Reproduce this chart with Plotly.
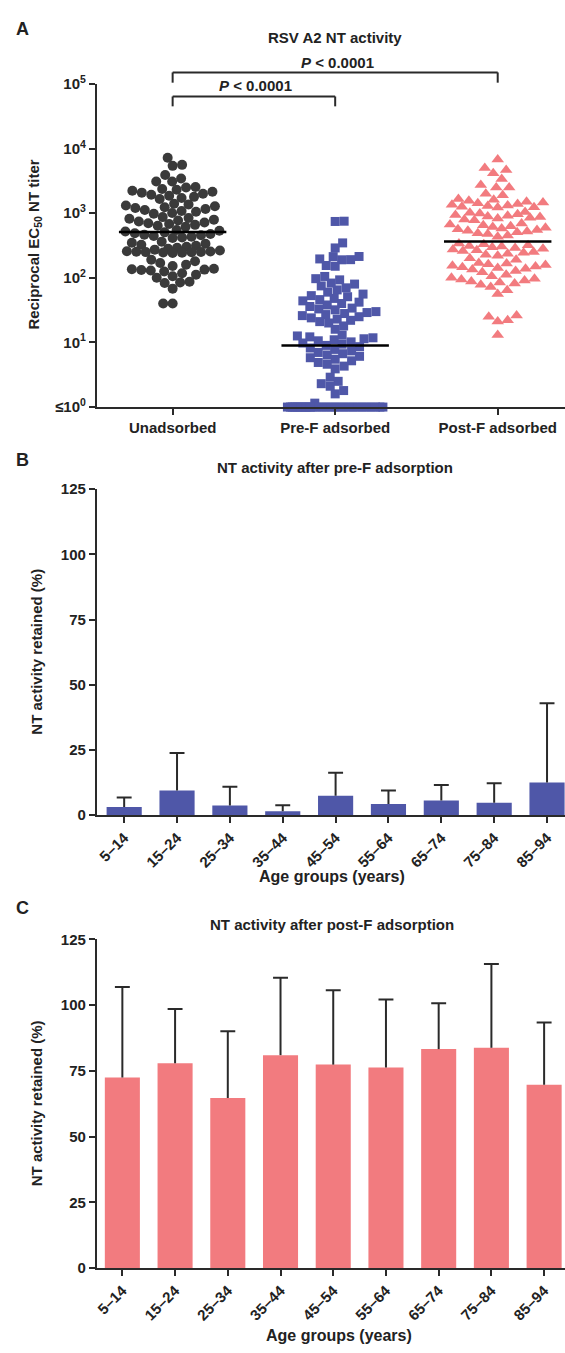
import numpy as np
import plotly.graph_objects as go

W, H = 565, 1353

# ---------------- Panel A data (reciprocal EC50 NT titers) ----------------
groups = ["Unadsorbed", "Pre-F adsorbed", "Post-F adsorbed"]
unadsorbed = [7200, 5600, 5400, 3900, 3450, 3100, 3100, 2550, 2500,
              2370, 2300, 2230, 2150, 2080, 2000, 1930, 1860, 1790, 1720, 1660,
              1400, 1360, 1320, 1280, 1240, 1200, 1160, 1120, 1080, 1050, 1010, 980,
              870, 845, 820, 795, 770, 745, 720, 700, 680, 660, 640, 617,
              550, 535, 520, 505, 490, 478, 466, 455, 444, 433, 422, 412,
              363, 350, 337, 325, 313, 302, 292, 282, 273, 265, 257,
              255, 254, 252, 250, 248, 246, 244, 242, 190, 180, 170, 160, 152,
              138, 136, 134, 132, 130, 125, 118, 112, 106, 100,
              87, 85, 83, 68, 40, 40]
pre_f_adsorbed = [752, 745, 347, 290,
                  214, 213, 196, 191, 190, 155, 151,
                  105, 97, 93,
                  83, 80, 75, 70, 65, 60, 56, 53, 51,
                  48, 46, 44, 42, 40, 38, 36, 34, 33, 32, 30, 29, 28,
                  27, 26, 25, 24, 23, 22, 21, 20, 18, 16,
                  13, 12.6, 12.2, 11.8, 11.4, 11, 10.6, 10.2, 9.8, 9.4, 9, 8.6, 8.2,
                  7.8, 7.4, 7, 6.7, 6.4, 6.1, 5.8, 5.5, 5.2, 4.9, 4.6, 4.3, 3.9,
                  2.9, 2.5, 2.3, 2.1, 1.8, 1.6,
                  1.15, 1, 1, 1, 1, 1, 1, 1, 1, 1, 1, 1, 1, 1, 1,
                  1, 1, 1, 1, 1, 1, 1, 1, 1, 1, 1, 1, 1, 1]
post_f_adsorbed = [6800, 5000, 4650, 4150, 3370, 2720, 2500, 2500, 2000, 1900,
                   1660, 1610, 1560, 1510, 1470, 1430, 1390, 1350, 1320, 1290, 1260, 1240, 1230,
                   1040, 1015, 990, 965, 940, 915, 890, 870, 850, 830, 800, 780,
                   690, 670, 650, 630, 610, 595, 580, 565, 550, 535, 520, 505, 490, 475, 450, 432,
                   340, 330, 320, 312, 305, 298, 290, 282, 275, 268, 260, 252, 244, 236, 228, 220, 200, 190,
                   170, 166, 162, 158, 154, 150, 146, 142, 138, 134, 128, 122, 112, 106,
                   100, 97, 94, 91, 88, 85, 82, 78, 72, 64, 56,
                   26, 25, 22, 21, 13]
group_medians = [510, 9, 365]
titer_ticks = [1, 10, 100, 1000, 10000, 100000]
titer_tick_text = ["≤10<sup>0</sup>", "10<sup>1</sup>", "10<sup>2</sup>",
                   "10<sup>3</sup>", "10<sup>4</sup>", "10<sup>5</sup>"]
p_text = "<i>P</i> &lt; 0.0001"

# ---------------- Panels B, C data (% NT activity retained) ----------------
age_groups = ["5–14", "15–24", "25–34", "35–44", "45–54", "55–64", "65–74", "75–84", "85–94"]
pre_f_mean = [3.2, 9.5, 3.7, 1.5, 7.5, 4.3, 5.7, 4.8, 12.6]
pre_f_sd = [3.6, 14.4, 7.2, 2.3, 8.8, 5.2, 5.9, 7.5, 30.3]
post_f_mean = [72.5, 77.9, 64.7, 81.0, 77.4, 76.3, 83.3, 83.8, 69.7]
post_f_sd = [34.4, 20.7, 25.4, 29.4, 28.3, 25.9, 17.4, 31.9, 23.7]
pct_ticks = [0, 25, 50, 75, 100, 125]

# ---------------- styling ----------------
FONT = "Liberation Sans, Arial, sans-serif"
TXT = "#222222"
AX = "#2a2a2a"
C_UN = "#3a3a3a"
C_PRE = "#4f57a8"
C_POST = "#f27b7f"


def px(x):
    return x / W


def py(y):
    return 1 - y / H


# layout geometry (pixels)
A_x0, A_x1, A_top, A_bot = 94.4, 565, 74, 401.7
A_range = [-0.466, 2.414]
B_x0, B_x1, B_top, B_bot = 94.4, 565, 485, 815.7
B_range = [-0.516, 8.34]
C_x0, C_x1, C_top, C_bot = 94.4, 565, 941.7, 1275
C_range = [-0.483, 8.396]

a_xscale = (A_x1 - A_x0) / (A_range[1] - A_range[0])
a_yscale = (A_bot - A_top) / 5.0


def swarm(values, d=9.5, maxw=48.0):
    ys = np.log10(np.asarray(values, float)) * a_yscale
    order = np.argsort(ys, kind="stable")
    xs = np.zeros(len(ys))
    placed = []
    cand = np.arange(-maxw, maxw + 0.01, 0.5)
    for k, i in enumerate(order):
        y = ys[i]
        near = [(a, b) for a, b in placed if abs(b - y) < d]
        if near:
            P = np.array(near)
            dist = np.sqrt((cand[:, None] - P[:, 0]) ** 2 + (y - P[:, 1]) ** 2)
            mind = dist.min(axis=1)
            ok = mind >= d
            if ok.any():
                c = cand[ok]
                sgn = 1 if k % 2 else -1
                x = c[np.argmin(np.abs(c) + 1e-3 * sgn * c)]
            else:
                x = cand[np.argmax(mind)]
        else:
            x = 0.0
        xs[i] = x
        placed.append((x, y))
    return xs / a_xscale


fig = go.Figure()

series = [unadsorbed, pre_f_adsorbed, post_f_adsorbed]
symbols = ["circle", "square", "triangle-up"]
colors = [C_UN, C_PRE, C_POST]
sizes = [10, 9, 11]
spacing = [9.5, 9.0, 10.0]
for gi, (vals, sym, col, sz, dd) in enumerate(zip(series, symbols, colors, sizes, spacing)):
    off = swarm(vals, d=dd)
    fig.add_trace(go.Scatter(
        x=gi + off, y=vals, mode="markers", xaxis="x", yaxis="y",
        marker=dict(symbol=sym, color=col, size=sz, line=dict(width=0)),
        cliponaxis=False, hoverinfo="skip"))

half = 54 / a_xscale
for gi, m in enumerate(group_medians):
    fig.add_trace(go.Scatter(x=[gi - half, gi + half], y=[m, m], mode="lines",
                             line=dict(color="black", width=2.5), xaxis="x", yaxis="y",
                             hoverinfo="skip"))


def err_lines(mean, sd, halfw):
    xs, ys = [], []
    for i, (m, s) in enumerate(zip(mean, sd)):
        xs += [i, i, None, i - halfw, i + halfw, None]
        ys += [m, m + s, None, m + s, m + s, None]
    return xs, ys


for mean, sd, col, xa, ya, rng, x0, x1 in [
        (pre_f_mean, pre_f_sd, C_PRE, "x2", "y2", B_range, B_x0, B_x1),
        (post_f_mean, post_f_sd, C_POST, "x3", "y3", C_range, C_x0, C_x1)]:
    fig.add_trace(go.Bar(x=list(range(len(age_groups))), y=mean, width=0.665,
                         marker=dict(color=col, line=dict(width=0)),
                         xaxis=xa, yaxis=ya, hoverinfo="skip"))
    scale = (x1 - x0) / (rng[1] - rng[0])
    ex, ey = err_lines(mean, sd, 7.5 / scale)
    fig.add_trace(go.Scatter(x=ex, y=ey, mode="lines", line=dict(color=AX, width=2),
                             xaxis=xa, yaxis=ya, hoverinfo="skip", cliponaxis=False))

tickfont = dict(family=FONT, size=15, color=TXT, weight="bold")
common = dict(showline=True, linecolor=AX, linewidth=2, ticks="outside", ticklen=6,
              tickwidth=2, tickcolor=AX, showgrid=False, zeroline=False, tickfont=tickfont)

fig.update_layout(
    width=W, height=H, margin=dict(l=0, r=0, t=0, b=0),
    paper_bgcolor="white", plot_bgcolor="white", showlegend=False,
    font=dict(family=FONT, size=15, color=TXT, weight="bold"),
    xaxis=dict(domain=[px(A_x0), px(A_x1)], range=A_range, tickvals=[0, 1, 2],
               ticktext=groups, anchor="y", **common),
    yaxis=dict(domain=[py(A_bot), py(A_top)], type="log", range=[0, 5],
               tickvals=titer_ticks, ticktext=titer_tick_text, anchor="x", **common),
    xaxis2=dict(domain=[px(B_x0), px(B_x1)], range=B_range,
                tickvals=list(range(len(age_groups))), ticktext=age_groups,
                tickangle=-45, anchor="y2", **common),
    yaxis2=dict(domain=[py(B_bot), py(B_top)], range=[0, 125], tickvals=pct_ticks,
                anchor="x2", **common),
    xaxis3=dict(domain=[px(C_x0), px(C_x1)], range=C_range,
                tickvals=list(range(len(age_groups))), ticktext=age_groups,
                tickangle=-45, anchor="y3", **common),
    yaxis3=dict(domain=[py(C_bot), py(C_top)], range=[0, 125], tickvals=pct_ticks,
                anchor="x3", **common),
)

# significance brackets
for (g0, g1, ybar, yleg) in [(0, 2, 62.3, 72.7), (0, 1, 86.7, 96.7)]:
    fig.add_shape(type="line", xref="x", yref="paper", x0=g0, x1=g1, y0=py(ybar), y1=py(ybar),
                  line=dict(color=AX, width=2))
    for g in (g0, g1):
        fig.add_shape(type="line", xref="x", yref="paper", x0=g, x1=g, y0=py(ybar), y1=py(yleg),
                      line=dict(color=AX, width=2))

ann = []


def text(x, y, s, size=16, angle=0, xanchor="center"):
    ann.append(dict(x=px(x), y=py(y), xref="paper", yref="paper", text=s, showarrow=False,
                    textangle=angle, xanchor=xanchor, yanchor="middle",
                    font=dict(family=FONT, size=size, color=TXT, weight="bold")))


text(20, 18, "A", size=18)
text(20, 455, "B", size=18)
text(20, 910, "C", size=18)
text(334, 27, "RSV A2 NT activity", size=15)
text(336, 52, p_text, size=15)
text(254, 76, p_text, size=15)
text(32, 237, "Reciprocal EC<sub>50</sub> NT titer", size=15, angle=-90)
text(334, 463, "NT activity after pre-F adsorption", size=15)
text(34, 650, "NT activity retained (%)", size=15, angle=-90)
text(331, 878, "Age groups (years)", size=16)
text(331, 927, "NT activity after post-F adsorption", size=15)
text(34, 1108, "NT activity retained (%)", size=15, angle=-90)
text(338, 1343, "Age groups (years)", size=16)
fig.update_layout(annotations=ann)

fig.write_html(
    "out.html",
    config={"displayModeBar": False},
    post_script="document.documentElement.style.margin='0';document.body.style.margin='0';"
                "document.documentElement.style.overflow='hidden';document.body.style.overflow='hidden';",
)
